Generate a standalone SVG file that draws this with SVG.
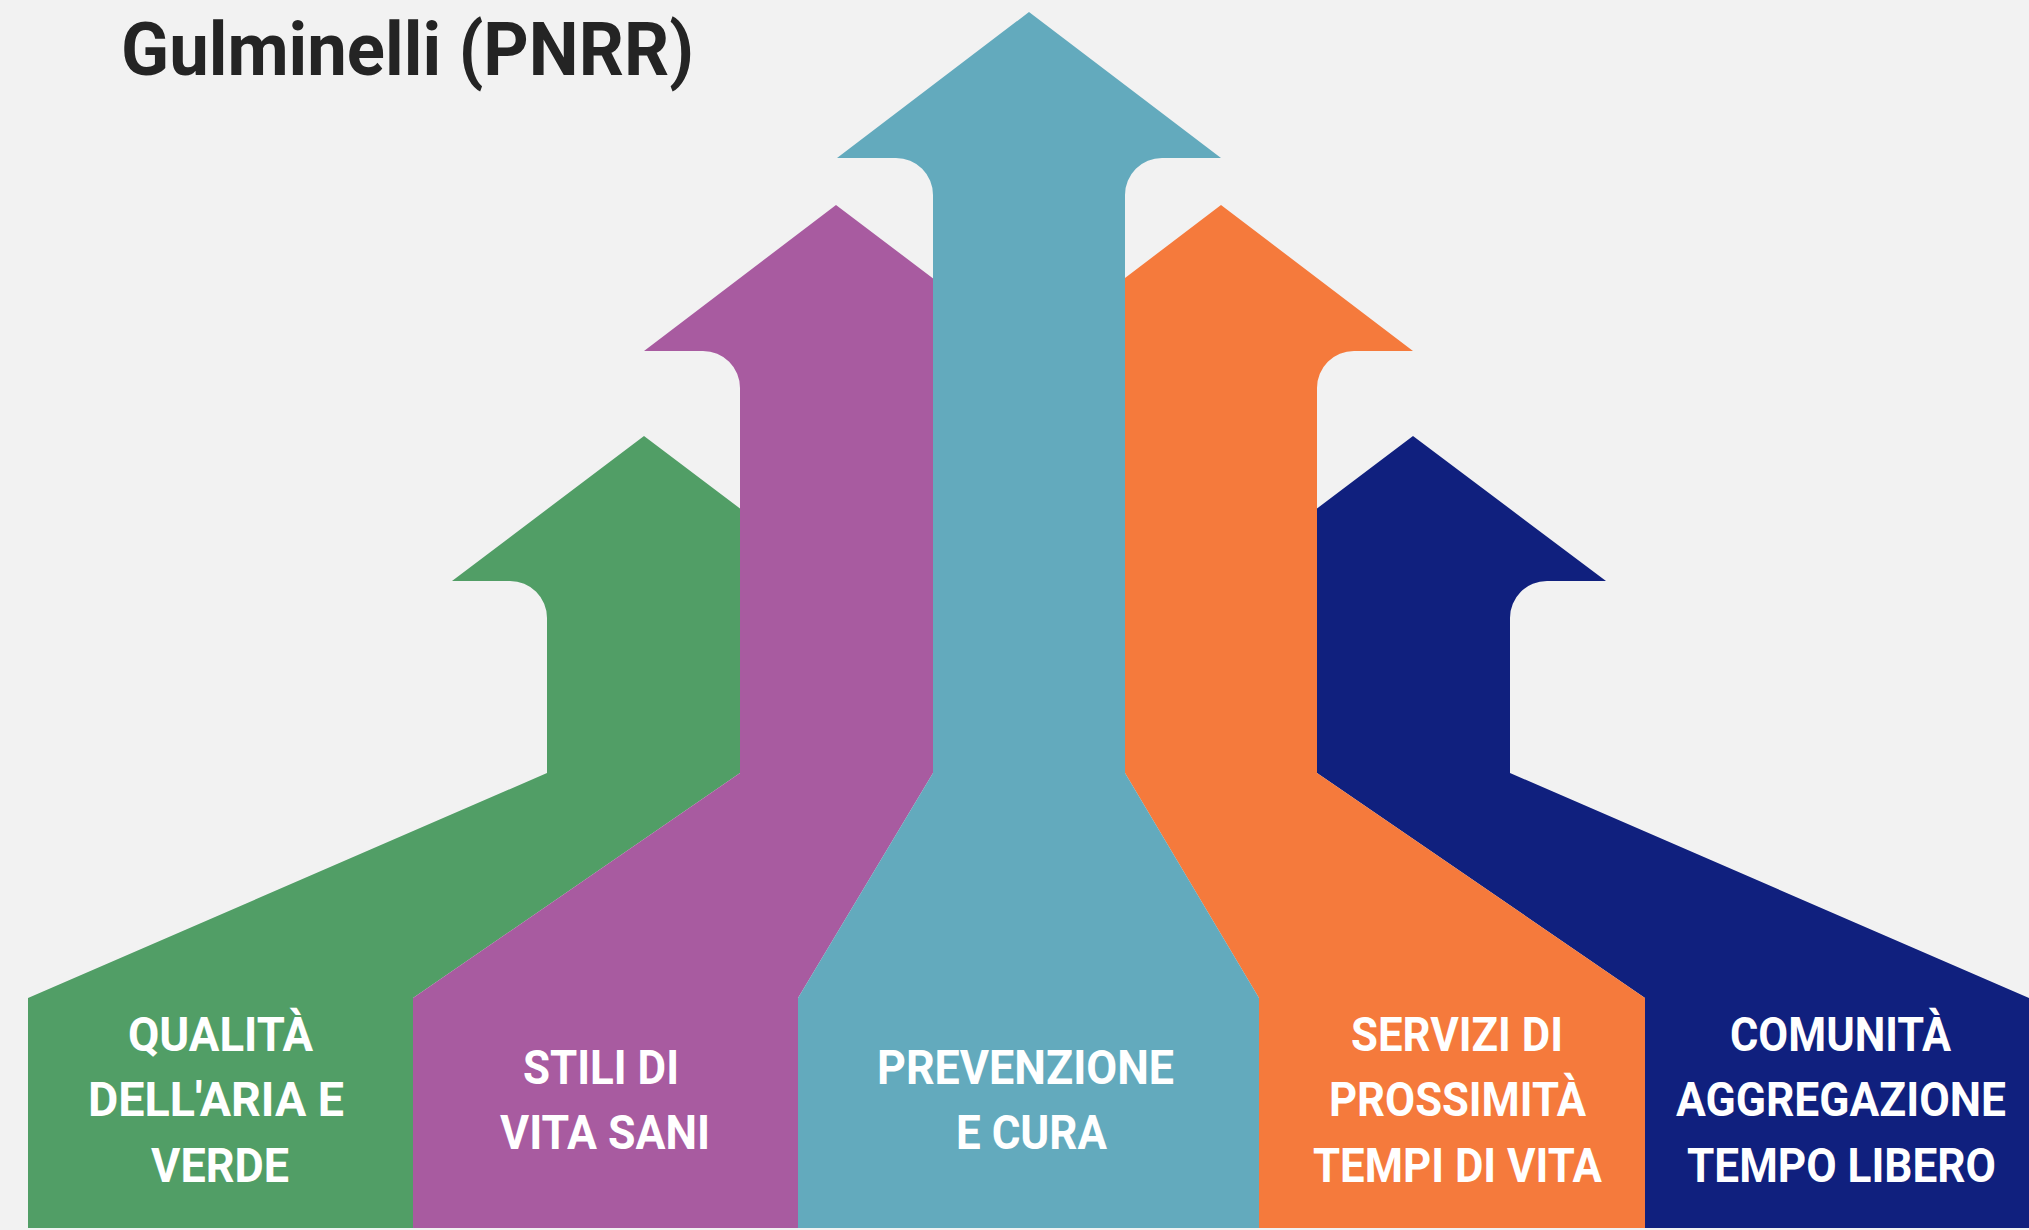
<svg xmlns="http://www.w3.org/2000/svg" width="2029" height="1230" viewBox="0 0 2029 1230">
  <style>
    .lbl { font-family: Roboto, "Liberation Sans", "DejaVu Sans", sans-serif; font-weight: 700; font-size: 48px; fill: #ffffff; text-anchor: middle; }
    .title { font-family: Roboto, "Liberation Sans", "DejaVu Sans", sans-serif; font-weight: 700; font-size: 74px; fill: #242424; }
  </style>
  <rect x="0" y="0" width="2029" height="1230" fill="#f2f2f2"/>
  <g id="title">
    <text class="title" x="121" y="75" textLength="573" lengthAdjust="spacingAndGlyphs">Gulminelli (PNRR)</text>
  </g>
  <g id="connectors"/>
  <g id="node-qualita">
    <path fill="#519e66" d="M644,436 L836,581 L777,581 A37,37 0 0 0 740,618 L740,773 L413,998 L413,1228 L28,1228 L28,998 L547,773 L547,618 A37,37 0 0 0 510,581 L452,581 Z"/>
    <text class="lbl" x="220.5" y="1051" textLength="185" lengthAdjust="spacingAndGlyphs">QUALITÀ</text>
    <text class="lbl" x="216" y="1116" textLength="256" lengthAdjust="spacingAndGlyphs">DELL'ARIA E</text>
    <text class="lbl" x="220" y="1182" textLength="138" lengthAdjust="spacingAndGlyphs">VERDE</text>
  </g>
  <g id="node-stili">
    <path fill="#a85ba0" d="M836,205 L1029,351 L970,351 A37,37 0 0 0 933,388 L933,773 L798,998 L798,1228 L413,1228 L413,998 L740,773 L740,388 A37,37 0 0 0 703,351 L644,351 Z"/>
    <text class="lbl" x="601" y="1084" textLength="156" lengthAdjust="spacingAndGlyphs">STILI DI</text>
    <text class="lbl" x="605" y="1149" textLength="210" lengthAdjust="spacingAndGlyphs">VITA SANI</text>
  </g>
  <g id="node-comunita">
    <path fill="#10207e" d="M1413,436 L1606,581 L1547,581 A37,37 0 0 0 1510,618 L1510,773 L2029,998 L2029,1228 L1645,1228 L1645,998 L1317,773 L1317,618 A37,37 0 0 0 1280,581 L1221,581 Z"/>
    <text class="lbl" x="1840.5" y="1051" textLength="221" lengthAdjust="spacingAndGlyphs">COMUNITÀ</text>
    <text class="lbl" x="1841" y="1116" textLength="330" lengthAdjust="spacingAndGlyphs">AGGREGAZIONE</text>
    <text class="lbl" x="1841.5" y="1182" textLength="309" lengthAdjust="spacingAndGlyphs">TEMPO LIBERO</text>
  </g>
  <g id="node-servizi">
    <path fill="#f57a3c" d="M1221,205 L1413,351 L1354,351 A37,37 0 0 0 1317,388 L1317,773 L1645,998 L1645,1228 L1259,1228 L1259,998 L1125,773 L1125,388 A37,37 0 0 0 1088,351 L1029,351 Z"/>
    <text class="lbl" x="1457" y="1051" textLength="212" lengthAdjust="spacingAndGlyphs">SERVIZI DI</text>
    <text class="lbl" x="1457.5" y="1116" textLength="257" lengthAdjust="spacingAndGlyphs">PROSSIMITÀ</text>
    <text class="lbl" x="1457.5" y="1182" textLength="289" lengthAdjust="spacingAndGlyphs">TEMPI DI VITA</text>
  </g>
  <g id="node-prevenzione">
    <path fill="#63aabd" d="M1029,12 L1221,158 L1162,158 A37,37 0 0 0 1125,195 L1125,773 L1259,998 L1259,1228 L798,1228 L798,998 L933,773 L933,195 A37,37 0 0 0 896,158 L837,158 Z"/>
    <text class="lbl" x="1025.5" y="1084" textLength="297" lengthAdjust="spacingAndGlyphs">PREVENZIONE</text>
    <text class="lbl" x="1031.5" y="1149" textLength="151" lengthAdjust="spacingAndGlyphs">E CURA</text>
  </g>
</svg>
